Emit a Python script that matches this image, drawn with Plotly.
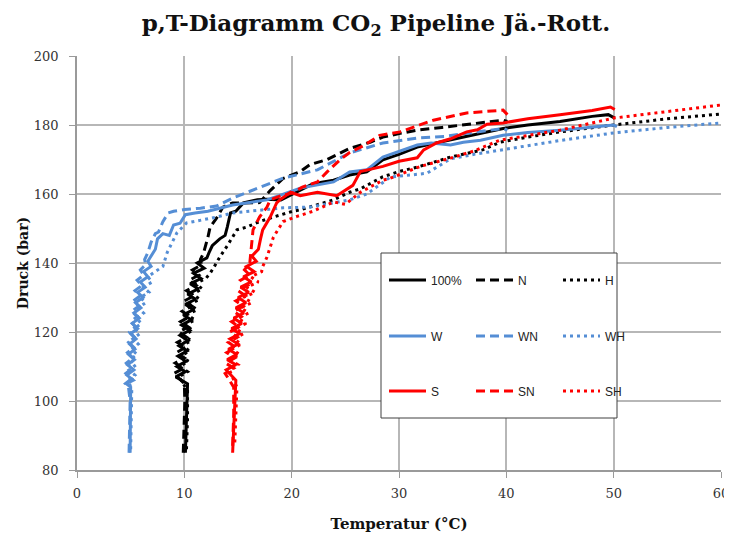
import plotly.graph_objects as go

# ---------------- data ----------------
T_100 = [10.1, 10.15, 10.2, 10.3,
         9.2, 10.1, 9.3, 10.15, 9.4, 10.25, 9.5, 10.35, 9.6, 10.5, 9.75, 10.65, 9.9, 10.85, 10.1, 11.05,
         10.3, 11.3, 10.55, 11.55, 10.85, 11.85, 11.2, 12.1,
         12.3, 12.6, 13.3, 13.8, 14.0, 14.3, 14.8, 15.5, 16.8, 17.7, 19.0, 20.8, 22.0, 23.9, 25.4, 27.0,
         28.5, 30.0, 31.7, 33.0, 34.8, 37.6, 39.7, 42.0, 45.0, 48.0, 49.5, 50.1]
p_100 = [85, 92, 100, 105,
         107, 108.5, 110, 111.5, 113, 114.5, 116, 117.5, 119, 120.5, 122, 123.5, 125, 126.5, 128, 129.5,
         131, 132.5, 134, 135.5, 137, 138.5, 140, 141.5,
         143, 145, 147, 148, 150.4, 154.5, 155, 157.4, 158.3, 158.5, 158.3, 161.2, 163, 164, 165.5, 166.4,
         169.9, 171.5, 173.6, 174.5, 175.7, 177.7, 179, 180, 181, 182.5, 183, 182]

T_N = [9.9, 10.0, 10.05, 10.0,
       9.05, 9.95, 9.15, 10.0, 9.25, 10.1, 9.35, 10.2, 9.5, 10.35, 9.65, 10.5, 9.8, 10.7, 10.0, 10.9,
       10.2, 11.1, 10.45, 11.35, 10.75, 11.6, 11.5,
       11.8, 12.1, 12.2, 12.4, 13.0, 13.6, 14.5, 15.5, 17.0, 18.0, 19.2, 20.8, 21.7, 23.3, 25.4, 27.3,
       28.5, 30.0, 31.7, 34.0, 36.3, 39.7, 40.1]
p_N = [85, 92, 100, 105,
       108, 109.5, 111, 112.5, 114, 115.5, 117, 118.5, 120, 121.5, 123, 124.5, 126, 127.5, 129, 130.5,
       132, 133.5, 135, 136.5, 138, 139.5, 141,
       143, 146, 147.5, 150.4, 153, 156.2, 157.4, 157.4, 157.5, 161, 164.5, 166.5, 168.5, 170, 173.2, 175,
       176.5, 177.5, 178.5, 179.3, 180.2, 181.4, 181]

T_H = [10.2, 10.3, 10.3,
       9.5, 10.3, 9.55, 10.4, 9.65, 10.5, 9.75, 10.65, 9.9, 10.8, 10.05, 11.0, 10.25, 11.2, 10.45, 11.45,
       10.7, 11.7, 11.0, 12.0, 12.4, 12.8,
       13.3, 14.0, 14.9, 15.8, 17.0, 18.5, 20.1, 20.8, 22.9, 23.9, 25.4, 26.4, 28.5, 30.0, 31.7, 34.8,
       37.8, 39.4, 42.0, 45.0, 50.0, 55.0, 60.0]
p_H = [86, 95, 103,
       107, 108.5, 110, 111.5, 113, 114.5, 116, 117.5, 119, 120.5, 122, 123.5, 125, 126.5, 128, 129.5,
       131, 132.5, 134, 135.5, 137, 139,
       141.7, 145, 149.6, 150.4, 152, 153.5, 155, 155.4, 157.5, 158.3, 160.5, 161.5, 165, 166.5, 167.8, 170.7,
       172.8, 175, 176.5, 178, 180, 181.8, 183.2]

T_W = [4.95, 4.97, 5.0, 5.05, 5.0,
       4.6, 5.25, 4.65, 5.3, 4.7, 5.35, 4.8, 5.4, 4.9, 5.5, 5.0, 5.65, 5.15, 5.8, 5.3, 5.95, 5.45, 6.15,
       5.65, 6.35, 5.9, 6.6, 6.2, 6.9, 6.6,
       7.3, 7.5, 8.0, 8.6, 9.0, 9.6, 10.1, 11.0, 12.2, 14.5, 17.7, 20.8, 23.9, 25.4, 27.0, 28.5, 31.7,
       33.0, 34.8, 36.0, 37.6, 39.7, 42.0, 45.0, 48.0, 50.0, 50.3]
p_W = [85, 90, 95, 100, 104,
       105, 106, 107.5, 109, 110.5, 112, 113.5, 115, 116.5, 118, 119.5, 121, 122.5, 124, 125.5, 127, 128.5, 130,
       131.5, 133, 134.5, 136, 137.5, 139, 140.5,
       144, 147, 148.5, 148, 151, 151.5, 154, 154.5, 155, 156.8, 158.3, 161.7, 163.5, 166.4, 167, 170.7, 174.2,
       174.8, 174.2, 175, 175.6, 177, 177.8, 178.5, 179.5, 180, 179.5]

T_WN = [4.85, 4.9, 4.95, 4.8,
        4.5, 5.1, 4.55, 5.15, 4.6, 5.2, 4.7, 5.3, 4.8, 5.35, 4.9, 5.45, 5.0, 5.6, 5.1, 5.75, 5.25, 5.9,
        5.4, 6.05, 5.6, 6.2, 5.9, 6.4, 6.3,
        6.6, 6.9, 7.3, 7.6, 8.0, 8.5, 9.0, 10.0, 11.5, 13.0, 14.5, 16.8, 19.2, 22.4, 25.4, 28.5, 31.7,
        34.2, 37.0, 39.7, 40.1]
p_WN = [85, 92, 100, 104,
        105, 106.5, 108, 109.5, 111, 112.5, 114, 115.5, 117, 118.5, 120, 121.5, 123, 124.5, 126, 127.5, 129, 130.5,
        132, 133.5, 135, 136.5, 138, 139.5, 141,
        143, 146, 148.5, 149, 152, 154.5, 155, 155.5, 155.9, 156.5, 158.8, 161.7, 164.6, 167, 171.9, 174.8, 176.2,
        176.7, 177.8, 179, 178.5]

T_WH = [5.0, 5.05, 5.1,
        4.8, 5.4, 4.85, 5.5, 4.95, 5.6, 5.05, 5.7, 5.2, 5.85, 5.35, 6.0, 5.5, 6.2, 5.7, 6.4, 5.9, 6.7,
        6.2, 7.0, 6.6, 7.3,
        7.6, 8.0, 8.4, 9.3, 10.2, 11.7, 13.0, 14.5, 19.2, 21.7, 25.4, 27.0, 29.2, 32.6, 34.8, 37.0,
        39.4, 42.0, 45.0, 50.0, 55.0, 60.0]
p_WH = [86, 95, 103,
        106, 107.5, 109, 110.5, 112, 113.5, 115, 116.5, 118, 119.5, 121, 122.5, 124, 125.5, 127, 128.5, 130, 131.5,
        133, 134.5, 136, 137.5,
        138, 139, 143, 148.7, 151.6, 152.5, 153.3, 154.5, 156, 156.2, 158.3, 160, 164.9, 166, 170.2, 171.5,
        172.8, 174, 175.5, 177.7, 179.3, 180.6]

T_S = [14.5, 14.6, 14.7, 14.8,
       13.9, 14.8, 14.0, 14.9, 14.1, 15.0, 14.25, 15.15, 14.4, 15.35, 14.6, 15.55, 14.8, 15.75, 15.0, 16.0,
       15.25, 16.25, 15.5, 16.5, 15.8, 16.7, 16.3,
       16.9, 17.1, 17.3, 18.0, 18.6, 18.9, 19.9, 20.8, 22.4, 24.2, 25.7, 26.4, 28.5, 30.0, 31.7, 32.3,
       33.5, 34.8, 36.3, 37.3, 38.2, 39.7, 42.0, 45.0, 48.0, 49.7, 50.1]
p_S = [85, 92, 100, 106,
       109, 110.5, 112, 113.5, 115, 116.5, 118, 119.5, 121, 122.5, 124, 125.5, 127, 128.5, 130, 131.5,
       133, 134.5, 136, 137.5, 139, 140.5, 142,
       144, 147, 149.6, 153.3, 157.4, 158.3, 160.5, 159.5, 160.5, 159.5, 162.5, 166.5, 168, 169.5, 170.5, 172.8,
       174.8, 176, 178, 178.6, 180.2, 180.6, 181.8, 183, 184.2, 185.2, 184.5]

T_SN = [14.5, 14.6, 14.6,
        13.8, 14.6, 13.85, 14.7, 13.95, 14.8, 14.1, 14.95, 14.25, 15.1, 14.4, 15.3, 14.6, 15.5, 14.8, 15.7,
        15.0, 15.9, 15.25, 16.1, 15.6, 16.1,
        16.2, 16.3, 16.4, 17.0, 17.7, 18.0, 19.0, 20.1, 21.0, 22.4, 23.3, 24.5, 25.4, 26.7, 28.2, 30.1,
        33.2, 36.3, 39.7, 40.1]
p_SN = [87, 96, 104,
        108, 109.5, 111, 112.5, 114, 115.5, 117, 118.5, 120, 121.5, 123, 124.5, 126, 127.5, 129, 130.5,
        132, 133.5, 135, 136.5, 138, 140,
        143, 146, 149.6, 153.3, 156.2, 158.3, 159.5, 160.3, 162, 163.5, 166.4, 169.9, 172, 174, 177, 178,
        181.4, 183.5, 184.3, 183]

T_SH = [14.7, 14.8, 14.9,
        14.2, 15.0, 14.3, 15.15, 14.45, 15.3, 14.6, 15.5, 14.8, 15.75, 15.0, 16.0, 15.25, 16.3, 15.5, 16.6,
        15.8, 16.9, 16.2, 17.2, 17.3,
        17.7, 18.3, 19.2, 20.5, 22.0, 23.9, 25.0, 26.4, 28.5, 29.2, 32.0, 34.8, 37.0, 39.4, 42.0, 45.0,
        50.0, 55.0, 60.0]
p_SH = [88, 97, 104,
        109, 110.5, 112, 113.5, 115, 116.5, 118, 119.5, 121, 122.5, 124, 125.5, 127, 128.5, 130, 131.5,
        133, 134.5, 136, 137.5, 139,
        141.7, 147.5, 152, 153.5, 155, 157.7, 157, 160.5, 164, 164.6, 168, 170.4, 172.5, 175.6, 177, 178.5,
        182, 183.8, 185.8]

series_names = ["100%", "N", "H", "W", "WN", "WH", "S", "SN", "SH"]
series_T = [T_100, T_N, T_H, T_W, T_WN, T_WH, T_S, T_SN, T_SH]
series_p = [p_100, p_N, p_H, p_W, p_WN, p_WH, p_S, p_SN, p_SH]

x_ticks = [0, 10, 20, 30, 40, 50, 60]
y_ticks = [80, 100, 120, 140, 160, 180, 200]

# ---------------- styles ----------------
BLACK = "#000000"
BLUE = "#558ED5"
RED = "#FF0000"
colors = [BLACK, BLACK, BLACK, BLUE, BLUE, BLUE, RED, RED, RED]
dashes = ["solid", "9px,5px", "3px,4px"] * 3
legends = ["legend", "legend", "legend", "legend2", "legend2", "legend2", "legend3", "legend3", "legend3"]

fig = go.Figure()
for name, T, p, c, d, lg in zip(series_names, series_T, series_p, colors, dashes, legends):
    fig.add_trace(go.Scatter(x=T, y=p, mode="lines", name=name, legend=lg,
                             line=dict(color=c, width=3, dash=d)))

SERIF = "DejaVu Serif"
GRID = "#b7b7b7"
AX = "#9a9a9a"

# the page body adds an 8 px offset; figure is sized to compensate
OFF = 8
FIG_W, FIG_H = 732 - OFF, 534 - OFF
L, R, T_M, B = 77 - OFF, 11, 56 - OFF, 64
W_PLOT, H_PLOT = 644, 414
def px2x(px):
    return (px - 77) / W_PLOT
def py2y(py):
    return (470 - py) / H_PLOT

leg_common = dict(orientation="h", entrywidth=35, entrywidthmode="pixels",
                  bgcolor="rgba(0,0,0,0)", borderwidth=0,
                  font=dict(family="Liberation Sans", size=12, color="#222"),
                  xanchor="left", yanchor="middle", itemwidth=37)

fig.update_layout(
    width=FIG_W, height=FIG_H,
    margin=dict(l=L, r=R, t=T_M, b=B, autoexpand=False),
    paper_bgcolor="white", plot_bgcolor="white",
    title=dict(text="<b>p,T-Diagramm CO<sub>2</sub> Pipeline Jä.-Rott.</b>",
               x=(376 - OFF) / FIG_W, xanchor="center", y=1 - (23 - OFF) / FIG_H, yanchor="middle",
               font=dict(family=SERIF, size=23, color="#111")),
    xaxis=dict(range=[0, 60], tickvals=x_ticks, showgrid=True, gridcolor=GRID, gridwidth=1.5,
               showline=True, linecolor=AX, linewidth=1.5, ticks="outside", ticklen=6,
               tickcolor=AX, zeroline=False, ticklabelstandoff=5,
               tickfont=dict(family=SERIF, size=13, color="#333"),
               title=dict(text="<b>Temperatur (°C)</b>", standoff=18,
                          font=dict(family=SERIF, size=15, color="#111"))),
    yaxis=dict(range=[80, 200], tickvals=y_ticks, showgrid=True, gridcolor=GRID, gridwidth=1.5,
               showline=True, linecolor=AX, linewidth=1.5, ticks="outside", ticklen=6,
               tickcolor=AX, zeroline=False, ticklabelstandoff=8,
               tickfont=dict(family=SERIF, size=13, color="#333"),
               title=dict(text="<b>Druck (bar)</b>", standoff=2,
                          font=dict(family=SERIF, size=14, color="#111"))),
    legend=dict(x=px2x(384), y=py2y(280), **leg_common),
    legend2=dict(x=px2x(384), y=py2y(336), **leg_common),
    legend3=dict(x=px2x(384), y=py2y(391), **leg_common),
    showlegend=True,
    shapes=[dict(type="rect", xref="paper", yref="paper",
                 x0=px2x(381), x1=px2x(617), y0=py2y(418), y1=py2y(253),
                 line=dict(color="#404040", width=1), fillcolor="white", layer="above")],
)

fig.write_html("out.html")
